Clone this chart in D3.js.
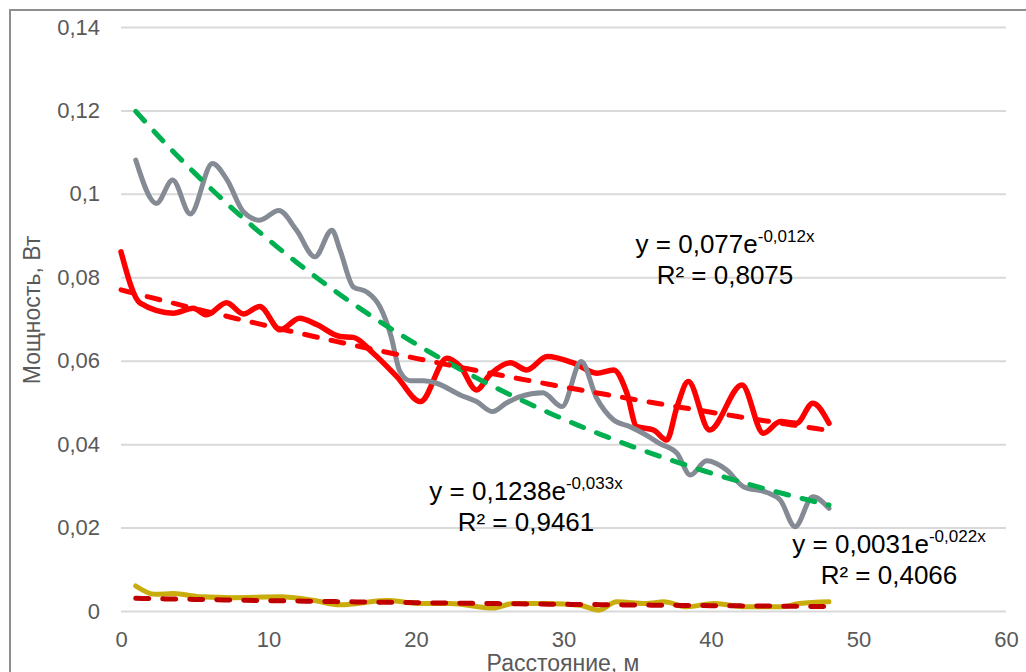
<!DOCTYPE html>
<html>
<head>
<meta charset="utf-8">
<script src="https://cdn.jsdelivr.net/npm/d3@7"></script>
<style>
  body { margin: 0; background: #fff; }
  text { font-family: "Liberation Sans", Arial, sans-serif; }
</style>
</head>
<body>
<svg id="plotarea"></svg>
<script>
// distance (m) and power (W)
var grayX = [1, 2.4, 3.5, 4.7, 6.2, 7.2, 8.3, 9.4, 10.7, 11.9, 13.15, 14.3, 14.85, 15.75, 16.66, 17.56, 18.3, 18.9, 19.6, 20.5, 21.4, 23, 24.1, 25.2, 26.1, 27.05, 28.6, 29.9, 31.2, 32.25, 33.4, 34.5, 35.6, 36.5, 37.7, 38.6, 39.7, 41.06, 42.2, 43.8, 44.7, 45.7, 46.9, 48];
var grayY = [0.1081, 0.0977, 0.1033, 0.0952, 0.1073, 0.1033, 0.0957, 0.0937, 0.0960, 0.0913, 0.0849, 0.0913, 0.0865, 0.0777, 0.0765, 0.0729, 0.0660, 0.0575, 0.0552, 0.0552, 0.0546, 0.0518, 0.0502, 0.0478, 0.0498, 0.0514, 0.0523, 0.0490, 0.0598, 0.0510, 0.0458, 0.0442, 0.0422, 0.0402, 0.0378, 0.0326, 0.0360, 0.0338, 0.0298, 0.0284, 0.0266, 0.0202, 0.0274, 0.0246];

var redX = [0, 1.3, 3.55, 4.9, 5.8, 7.16, 8.3, 9.4, 10.8, 12.1, 13.3, 14.85, 15.75, 17.1, 18.7, 20.3, 22.1, 23, 24.1, 25, 26.4, 27.5, 28.9, 30.7, 32.25, 33.4, 34.3, 34.96, 36.1, 37, 37.7, 38.46, 39.9, 42.1, 43.55, 44.7, 45.8, 46.9, 48];
var redY = [0.0861, 0.0738, 0.0714, 0.0726, 0.0710, 0.0739, 0.0712, 0.0730, 0.0674, 0.0702, 0.0686, 0.0658, 0.0656, 0.0618, 0.0562, 0.0502, 0.0606, 0.0586, 0.0530, 0.0566, 0.0595, 0.0578, 0.0610, 0.0594, 0.0570, 0.0578, 0.0522, 0.0442, 0.0434, 0.0410, 0.0490, 0.0550, 0.0434, 0.0542, 0.0426, 0.0454, 0.0450, 0.0498, 0.0450];

var yellowX = [1, 2.3, 3.55, 5.4, 7.6, 10.8, 13, 14.85, 18, 20.3, 22.3, 25.2, 26.6, 28.9, 31.1, 32.4, 33.6, 35.6, 36.8, 38.35, 40.2, 42.4, 44.7, 46, 48];
var yellowY = [0.0060, 0.0040, 0.0042, 0.0034, 0.0032, 0.0034, 0.0026, 0.0015, 0.0025, 0.0018, 0.0018, 0.0007, 0.0018, 0.0018, 0.0014, 0.0002, 0.0022, 0.0018, 0.0022, 0.0010, 0.0018, 0.0010, 0.0010, 0.0018, 0.0022];

// exponential trendlines as printed on the chart: y = a*e^(b*x)
var trendA = [0.1238, 0.077, 0.0031];
var trendB = [-0.033, -0.012, -0.022];
var trendR2 = ["0,9461", "0,8075", "0,4066"];
var trendFrom = [1, 0, 1];
var trendTo = [48, 48, 48];

var xTicks = [0, 10, 20, 30, 40, 50, 60];
var yTicks = [0, 0.02, 0.04, 0.06, 0.08, 0.1, 0.12, 0.14];

var W = 1026, H = 672;
var margin = {top: 27, right: 20, bottom: 61, left: 121};
var width = 1006 - margin.left;
var height = 611 - margin.top;

var svg = d3.select("#plotarea")
    .attr("width", W)
    .attr("height", H);

svg.append("rect")
    .attr("width", W).attr("height", H)
    .attr("fill", "#fff");

// chart border (only top and left sides are in view)
svg.append("rect")
    .attr("x", 10).attr("y", 10)
    .attr("width", W + 20).attr("height", H + 20)
    .attr("fill", "none")
    .attr("stroke", "#8f8f8f")
    .attr("stroke-width", 2);

var g = svg.append("g")
    .attr("transform", "translate(" + margin.left + "," + margin.top + ")");

var x = d3.scaleLinear().domain([0, 60]).range([0, width]);
var y = d3.scaleLinear().domain([0, 0.14]).range([height, 0]);

function comma(d) { return (+d.toFixed(2)).toString().replace(".", ","); }

var yAxis = g.append("g")
    .call(d3.axisLeft(y).tickValues(yTicks).tickSize(-width).tickPadding(21).tickFormat(comma));
yAxis.select(".domain").remove();
yAxis.selectAll("line").attr("stroke", "#d9d9d9").attr("stroke-width", 2);
yAxis.selectAll("text").attr("fill", "#595959").style("font-size", "22px");

var xAxis = g.append("g")
    .attr("transform", "translate(0," + height + ")")
    .call(d3.axisBottom(x).tickValues(xTicks).tickSize(0).tickPadding(20).tickFormat(comma));
xAxis.select(".domain").remove();
xAxis.selectAll("text").attr("fill", "#595959").style("font-size", "22px");

// axis titles (the x title is cut by the bottom edge, as in the source)
svg.append("text")
    .attr("x", 563).attr("y", 671)
    .attr("text-anchor", "middle")
    .attr("fill", "#595959")
    .style("font-size", "23px")
    .text("Расстояние, м");

svg.append("text")
    .attr("transform", "translate(40,310) rotate(-90)")
    .attr("text-anchor", "middle")
    .attr("fill", "#595959")
    .style("font-size", "23px")
    .text("Мощность, Вт");

var line = d3.line()
    .x(function(d) { return x(d[0]); })
    .y(function(d) { return y(d[1]); })
    .curve(d3.curveMonotoneX);

function pairs(xs, ys) { return xs.map(function(v, i) { return [v, ys[i]]; }); }

var series = [
    {data: pairs(redX, redY), color: "#ff0000", w: 5.5},
    {data: pairs(grayX, grayY), color: "#858b94", w: 5},
    {data: pairs(yellowX, yellowY), color: "#c9ad0c", w: 5}
];

g.selectAll(".series")
    .data(series)
    .enter().append("path")
    .attr("class", "series")
    .attr("d", function(d) { return line(d.data); })
    .attr("fill", "none")
    .attr("stroke", function(d) { return d.color; })
    .attr("stroke-width", function(d) { return d.w; })
    .attr("stroke-linejoin", "round")
    .attr("stroke-linecap", "round");

// trendlines
var trendColors = ["#00b050", "#ff0000", "#c00000"];
var trends = trendA.map(function(a, i) {
    var pts = [];
    for (var t = trendFrom[i]; t <= trendTo[i] + 1e-9; t += 0.5) pts.push([t, a * Math.exp(trendB[i] * t)]);
    return {data: pts, color: trendColors[i]};
});

var straight = d3.line()
    .x(function(d) { return x(d[0]); })
    .y(function(d) { return y(d[1]); });

g.selectAll(".trend")
    .data(trends)
    .enter().append("path")
    .attr("class", "trend")
    .attr("d", function(d) { return straight(d.data); })
    .attr("fill", "none")
    .attr("stroke", function(d) { return d.color; })
    .attr("stroke-width", 5)
    .attr("stroke-dasharray", "13,14")
    .attr("stroke-linecap", "round");

// equation labels
var labelPos = [[526, 500], [725, 253], [889, 553]];

function coef(v) { return String(v).replace(".", ","); }

trendA.forEach(function(a, i) {
    var t = svg.append("text")
        .attr("x", labelPos[i][0]).attr("y", labelPos[i][1])
        .attr("text-anchor", "middle")
        .attr("fill", "#000")
        .style("font-size", "26px");
    t.append("tspan").text("y = " + coef(a) + "e");
    t.append("tspan")
        .attr("dy", -11)
        .style("font-size", "17px")
        .text(coef(trendB[i]) + "x");

    svg.append("text")
        .attr("x", labelPos[i][0]).attr("y", labelPos[i][1] + 31)
        .attr("text-anchor", "middle")
        .attr("fill", "#000")
        .style("font-size", "26px")
        .text("R² = " + trendR2[i]);
});
</script>
</body>
</html>
